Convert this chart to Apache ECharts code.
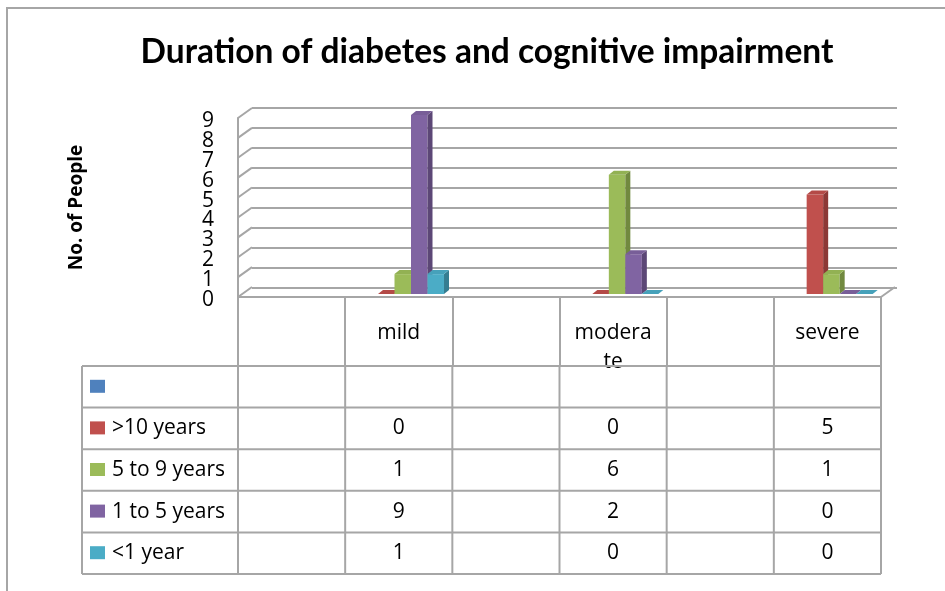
<!DOCTYPE html>
<html>
<head>
<meta charset="utf-8">
<script src="https://cdn.jsdelivr.net/npm/echarts@6/dist/echarts.min.js"></script>
<style>
html, body { margin: 0; padding: 0; background: #fff; }
#main { width: 945px; height: 591px; }
</style>
</head>
<body>
<div id="main"></div>
<script>
// data (blank columns / blank series are in the original table too)
var categories = ['', 'mild', '', 'moderate', '', 'severe'];
var seriesNames = ['', '>10 years', '5 to 9 years', '1 to 5 years', '<1 year'];
var blankValues = [null, null, null, null, null, null];
var over10Values = [null, 0, null, 0, null, 5];
var fiveToNineValues = [null, 1, null, 6, null, 1];
var oneToFiveValues = [null, 9, null, 2, null, 0];
var underOneValues = [null, 1, null, 0, null, 0];
var yTicks = [0, 1, 2, 3, 4, 5, 6, 7, 8, 9];

var allValues = [blankValues, over10Values, fiveToNineValues, oneToFiveValues, underOneValues];
var colors = ['#4F81BD', '#C0504D', '#9BBB59', '#8064A2', '#4BACC6'];
var sideColors = ['#385D8A', '#8C3836', '#71893F', '#5C4776', '#357D91'];
var topColors = ['#4A79B0', '#B44A47', '#92B153', '#785E98', '#46A1BA'];

var FONT = 'Open Sans';
var GRID_LINE = '#a6a6a6';
var WALL_DX = 14, WALL_DY = -10;   // depth of the back wall
var BAR_DX = 5, BAR_DY = -4;       // depth of a bar
var BAR_SHIFT_X = 4, BAR_SHIFT_Y = -3;
var Y_LABEL_GAP = 24;

var chart = echarts.init(document.getElementById('main'));

function barRenderer(sIdx) {
    return function (params, api) {
        var cat = api.value(0);
        var v = api.value(1);
        var top = api.coord([cat, v]);
        var base = api.coord([cat, 0]);
        var band = api.size([1, 0])[0];
        var bw = band * 0.154;
        var x0 = top[0] - 2.5 * bw + sIdx * bw + BAR_SHIFT_X;
        var yt = top[1] + BAR_SHIFT_Y;
        var yb = base[1] + BAR_SHIFT_Y;
        return {
            type: 'group',
            children: [
                {
                    type: 'rect',
                    shape: { x: x0, y: yt, width: bw, height: yb - yt },
                    style: { fill: colors[sIdx] }
                },
                {
                    type: 'polygon',
                    shape: { points: [[x0 + bw, yt], [x0 + bw + BAR_DX, yt + BAR_DY], [x0 + bw + BAR_DX, yb + BAR_DY], [x0 + bw, yb]] },
                    style: { fill: sideColors[sIdx] }
                },
                {
                    type: 'polygon',
                    shape: { points: [[x0, yt], [x0 + BAR_DX, yt + BAR_DY], [x0 + bw + BAR_DX, yt + BAR_DY], [x0 + bw, yt]] },
                    style: { fill: topColors[sIdx] }
                }
            ]
        };
    };
}

var series = [];
// left wall, floor edge and tick labels, one per tick
// (labels drawn here because the axis hides crowded ones)
series.push({
    type: 'custom',
    xAxisIndex: 0,
    yAxisIndex: 0,
    silent: true,
    z: 1,
    data: yTicks.map(function (v) { return [0, v]; }),
    renderItem: function (params, api) {
        var cs = params.coordSys;
        var v = api.value(1);
        var y = api.coord([0, v])[1];
        var children = [
            {
                type: 'line',
                shape: { x1: cs.x, y1: y, x2: cs.x + WALL_DX, y2: y + WALL_DY },
                style: { stroke: GRID_LINE, lineWidth: 2 }
            },
            {
                type: 'text',
                x: cs.x - Y_LABEL_GAP,
                y: y + 3,
                style: {
                    text: String(v), fontFamily: FONT, fontSize: 21, fill: '#000',
                    textAlign: 'right', textVerticalAlign: 'middle'
                }
            }
        ];
        if (v === 0) {
            children.push({
                type: 'line',
                shape: { x1: cs.x + cs.width, y1: y, x2: cs.x + cs.width + WALL_DX, y2: y + WALL_DY },
                style: { stroke: GRID_LINE, lineWidth: 2 }
            });
        }
        return { type: 'group', children: children };
    }
});

allValues.forEach(function (vals, s) {
    var data = [];
    vals.forEach(function (v, i) {
        if (v !== null) data.push([i, v]);
    });
    series.push({
        name: seriesNames[s],
        type: 'custom',
        xAxisIndex: 0,
        yAxisIndex: 0,
        z: 2,
        data: data,
        renderItem: barRenderer(s)
    });
});

var option = {
    animation: false,
    title: {
        text: 'Duration of diabetes and cognitive impairment',
        left: 482,
        top: 30,
        textAlign: 'center',
        textStyle: { fontFamily: 'Lato', fontWeight: 'bold', fontSize: 33.5, color: '#000' }
    },
    grid: [
        { left: 238, right: 64, top: 118, bottom: 294 },
        { left: 252, right: 48, top: 108, bottom: 303 }
    ],
    xAxis: [
        {
            type: 'category',
            gridIndex: 0,
            data: categories,
            boundaryGap: true,
            axisLine: { lineStyle: { color: GRID_LINE, width: 2 } },
            axisTick: { show: true, interval: 0, length: 69, lineStyle: { color: GRID_LINE, width: 2 } },
            axisLabel: {
                interval: 0,
                margin: 22,
                fontFamily: FONT,
                fontSize: 21,
                lineHeight: 29,
                color: '#000',
                formatter: function (v) {
                    return v.length > 7 ? v.slice(0, 6) + '\n' + v.slice(6) : v;
                }
            }
        },
        {
            type: 'category',
            gridIndex: 1,
            data: categories,
            show: false
        }
    ],
    yAxis: [
        {
            type: 'value',
            gridIndex: 0,
            min: 0,
            max: 9,
            interval: 1,
            name: 'No. of People',
            nameLocation: 'middle',
            nameGap: 152,
            nameTextStyle: { fontFamily: FONT, fontWeight: 'bold', fontSize: 19, color: '#000' },
            axisLine: { show: true, lineStyle: { color: GRID_LINE, width: 2 } },
            axisTick: { show: false },
            splitLine: { show: false },
            axisLabel: { show: false }
        },
        {
            type: 'value',
            gridIndex: 1,
            min: 0,
            max: 9,
            interval: 1,
            axisLine: { show: false },
            axisTick: { show: false },
            axisLabel: { show: false },
            splitLine: { show: true, lineStyle: { color: GRID_LINE, width: 2 } }
        }
    ],
    series: series
};

chart.setOption(option);

// data table under the chart
var TABLE_LEFT = 82, ROW_TOP = 366, ROW_H = 41.6;
var plotLeft = 238, plotRight = 945 - 64;
var band = (plotRight - plotLeft) / categories.length;
var lineStyle = { stroke: GRID_LINE, lineWidth: 2 };
var graphics = [];

graphics.push({
    type: 'rect',
    shape: { x: 7, y: 8, width: 960, height: 620 },
    style: { fill: null, stroke: '#a6a6a6', lineWidth: 2 },
    silent: true
});

var tableBottom = ROW_TOP + ROW_H * allValues.length;
for (var r = 0; r <= allValues.length; r++) {
    graphics.push({
        type: 'line', z: 100,
        shape: { x1: TABLE_LEFT, y1: ROW_TOP + r * ROW_H, x2: plotRight, y2: ROW_TOP + r * ROW_H },
        style: lineStyle
    });
}
var vlines = [TABLE_LEFT];
for (var c = 0; c <= categories.length; c++) vlines.push(plotLeft + c * band);
vlines.forEach(function (x) {
    graphics.push({
        type: 'line', z: 100,
        shape: { x1: x, y1: ROW_TOP, x2: x, y2: tableBottom },
        style: lineStyle
    });
});

allValues.forEach(function (vals, s) {
    var cy = ROW_TOP + (s + 0.5) * ROW_H;
    graphics.push({
        type: 'rect', z: 100,
        shape: { x: 90, y: cy - 7, width: 15, height: 13 },
        style: { fill: colors[s] }
    });
    graphics.push({
        type: 'text', z: 100,
        x: 112, y: cy,
        style: { text: seriesNames[s], fontFamily: FONT, fontSize: 21, fill: '#000', textVerticalAlign: 'middle' }
    });
    vals.forEach(function (v, i) {
        if (v === null) return;
        var cx = chart.convertToPixel({ xAxisIndex: 0 }, i);
        graphics.push({
            type: 'text', z: 100,
            x: cx, y: cy,
            style: { text: String(v), fontFamily: FONT, fontSize: 21, fill: '#000', textAlign: 'center', textVerticalAlign: 'middle' }
        });
    });
});

chart.setOption({ graphic: graphics });
</script>
</body>
</html>
